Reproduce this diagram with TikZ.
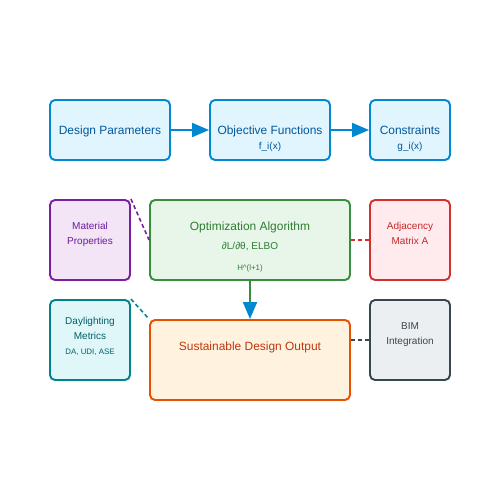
\documentclass[tikz,border=0pt]{standalone}
\usepackage{fontspec}
\setmainfont{Liberation Sans}
\usepackage{tikz}
\usetikzlibrary{positioning, arrows.meta}
\definecolor{blueline}{HTML}{0288D1}
\definecolor{bluefill}{HTML}{E1F5FE}
\definecolor{bluetext}{HTML}{01579B}
\definecolor{purpline}{HTML}{7B1FA2}
\definecolor{purpfill}{HTML}{F3E5F5}
\definecolor{purptext}{HTML}{6A1B9A}
\definecolor{greenline}{HTML}{388E3C}
\definecolor{greenfill}{HTML}{E8F5E9}
\definecolor{greentext}{HTML}{2E7D32}
\definecolor{redline}{HTML}{D32F2F}
\definecolor{redfill}{HTML}{FFEBEE}
\definecolor{redtext}{HTML}{C62828}
\definecolor{tealline}{HTML}{00838F}
\definecolor{tealfill}{HTML}{E0F7FA}
\definecolor{tealtext}{HTML}{006064}
\definecolor{orangeline}{HTML}{E65100}
\definecolor{orangefill}{HTML}{FFF3E0}
\definecolor{orangetext}{HTML}{BF360C}
\definecolor{grayline}{HTML}{37474F}
\definecolor{grayfill}{HTML}{ECEFF1}
\definecolor{graytext}{HTML}{37474F}

\tikzset{
  box/.style={draw, rounded corners=0.1cm, line width=1.1pt, inner sep=0pt},
  lbl/.style={anchor=base, inner sep=0pt, font=\fontsize{6.8}{8}\selectfont},
  sublbl/.style={anchor=base, inner sep=0pt, align=center, font=\fontsize{5.7}{8.5}\selectfont},
  tinylbl/.style={anchor=base, inner sep=0pt, font=\fontsize{4.5}{5}\selectfont},
  flow/.style={draw=blueline, line width=1.1pt, -{Triangle[length=0.34cm,width=0.28cm]}},
  link/.style={dash pattern=on 2.3pt off 1.6pt, line width=0.9pt}
}

\begin{document}
\begin{tikzpicture}[x=0.02cm, y=-0.02cm]
\useasboundingbox (0,0) rectangle (500,500);
% top row
\node[box, draw=blueline, fill=bluefill, minimum width=2.4cm, minimum height=1.2cm] (param) at (110,130) {};
\node[box, draw=blueline, fill=bluefill, minimum width=2.4cm, minimum height=1.2cm] (obj) at (270,130) {};
\node[box, draw=blueline, fill=bluefill, minimum width=1.6cm, minimum height=1.2cm] (cons) at (410,130) {};
\node[lbl, text=bluetext] (paramtxt) at (110,134.3) {Design Parameters};
\node[lbl, text=bluetext] (objtxt) at (270,134.3) {Objective Functions};
\node[sublbl, text=bluetext] (objsub) at (270,149.6) {f\_i(x)};
\node[lbl, text=bluetext] (constxt) at (410,134.3) {Constraints};
\node[sublbl, text=bluetext] (conssub) at (410,149.6) {g\_i(x)};
\draw[flow] (param) -- (obj);
\draw[flow] (obj) -- (cons);
% middle row
\node[box, draw=purpline, fill=purpfill, minimum width=1.6cm, minimum height=1.6cm] (mat) at (90,240) {};
\node[sublbl, text=purptext] (mattxt) at (90,244.6) {Material\\Properties};
\node[box, draw=greenline, fill=greenfill, minimum width=4cm, minimum height=1.6cm] (opt) at (250,240) {};
\node[lbl, text=greentext] (opttxt) at (250,230.3) {Optimization Algorithm};
\node[sublbl, text=greentext] (optsub) at (250,249.6) {∂L/∂θ, ELBO};
\node[tinylbl, text=greentext] (optsmall) at (250,270) {H\^{}(l+1)};
\node[box, draw=redline, fill=redfill, minimum width=1.6cm, minimum height=1.6cm] (adj) at (410,240) {};
\node[sublbl, text=redtext] (adjtxt) at (410,244.6) {Adjacency\\Matrix A};
% bottom row
\node[box, draw=tealline, fill=tealfill, minimum width=1.6cm, minimum height=1.6cm] (day) at (90,340) {};
\node[sublbl, text=tealtext] (daytxt) at (90,339.6) {Daylighting\\Metrics};
\node[tinylbl, text=tealtext] (daysub) at (90,354.9) {DA, UDI, ASE};
\node[box, draw=orangeline, fill=orangefill, minimum width=4cm, minimum height=1.6cm] (out) at (250,360) {};
\node[lbl, text=orangetext] (outtxt) at (250,350.3) {Sustainable Design Output};
\node[box, draw=grayline, fill=grayfill, minimum width=1.6cm, minimum height=1.6cm] (bim) at (410,340) {};
\node[sublbl, text=graytext] (bimtxt) at (410,344.6) {BIM\\Integration};
% links
\draw[link, draw=purpline] (mat.north east) -- (opt.west);
\draw[link, draw=redline] (opt.east) -- (adj.west);
\draw[link, draw=tealline] (day.north east) -- (out.north west);
\draw[link, draw=grayline] (out.east |- bim.west) -- (bim.west);
\draw[draw=greenline, line width=1.1pt, -{Triangle[color=blueline,length=0.34cm,width=0.28cm]}] (opt.south) -- (out.north);
\end{tikzpicture}
\end{document}
